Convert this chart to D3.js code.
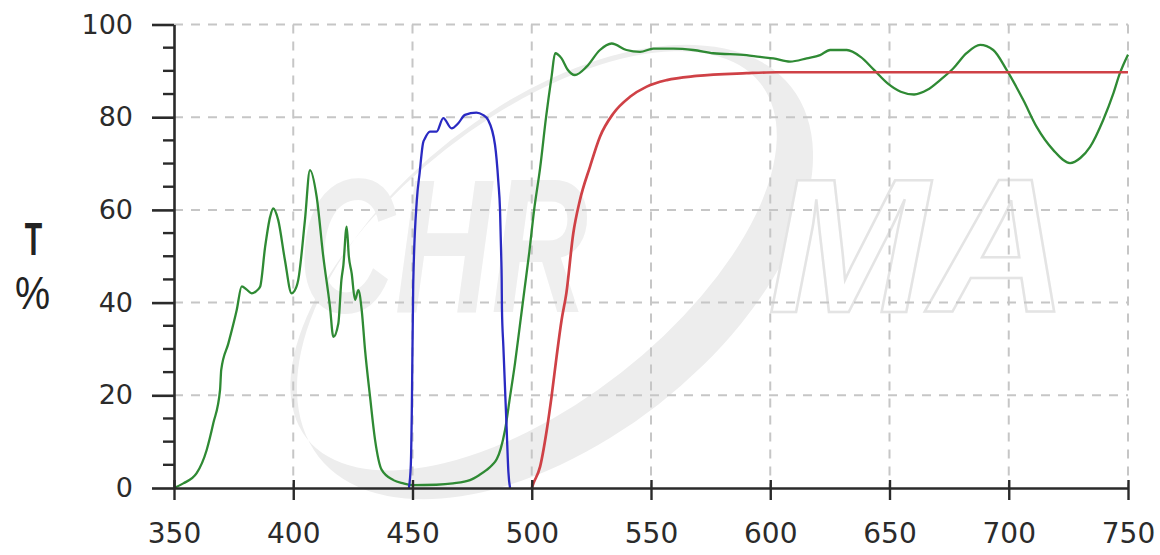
<!DOCTYPE html>
<html>
<head>
<meta charset="utf-8">
<script src="https://cdn.jsdelivr.net/npm/d3@7"></script>
<style>
  html, body { margin: 0; padding: 0; background: #ffffff; }
  svg { display: block; }
</style>
</head>
<body>
<svg id="chart" width="1160" height="555"></svg>
<script>
// Transmission spectra: [wavelength nm, transmission %]
const greenCurve = [
  [350,0],[353.9,1],[359.5,3.2],[363.7,8.2],[366.5,14],[369.3,21.1],[369.8,25.5],[372.8,31.2],
  [376.3,38.4],[378.4,43.5],[380.5,42.8],[382.6,42],[384.5,42.5],[386.1,43.4],[388.2,52],
  [390.3,58.5],[391.6,60.3],[393.7,57.8],[396.5,49.2],[399.3,42],[400.5,42.5],[402.1,44.9],
  [404.9,57.8],[407,68.6],[409.8,62.9],[412.6,49.9],[415.4,39.1],[416.8,32.6],[418.9,35.5],
  [420.2,44.9],[421,48],[422.4,56.4],[423.3,50],[424.5,46.3],[425.9,40.6],[427.3,42.7],
  [428.7,38.4],[430.1,29.8],[432.2,19.7],[434.3,10.4],[437.1,3.9],[442,1.7],[446.2,1],
  [450,0.6],[460,0.7],[467,1],[474.1,1.7],[478,2.8],[481.1,3.9],[483.5,5],[485.4,6.3],
  [487,8.5],[488.8,12.5],[490.9,19.7],[493,27],[495,35],[497,43],[499,51],[501,60],[503.5,69],
  [506,80],[508.3,88.7],[509.8,93.8],[512.5,92.7],[515,90.3],[518.1,89.1],[523,90.9],
  [528.6,94.5],[533.5,95.9],[539.7,94.5],[545.4,94.1],[551,94.8],[559.4,94.8],[567.7,94.5],
  [576.1,93.8],[590.1,93.4],[595.7,93],[601.3,92.7],[608.3,92],[615.3,92.7],[620.9,93.4],
  [625.1,94.5],[632.1,94.5],[637.9,93],[643.5,90.2],[649.2,87.3],[654.7,85.5],[660.3,84.9],
  [665.9,85.9],[671.2,88],[676.7,90.5],[682.3,93.8],[688,95.6],[693.5,94.5],[699.1,90.2],
  [706.1,83.7],[711.7,77.9],[718.7,72.9],[725.7,70.1],[730,71.2],[734.1,73.6],[739.6,79.4],
  [743.9,85.2],[746.6,89.5],[750,93.5]
];
const blueCurve = [
  [448.5,0],[449.3,5],[449.7,16],[450.3,44],[451.8,62],[453,68],[454.4,74.4],[455.2,75.4],
  [457.3,76.9],[460.1,76.9],[462.9,79.8],[466.4,77.6],[469.2,78.7],[472,80.5],[476.8,81],
  [479.5,80.5],[481.7,79.4],[484.6,74],[486,66],[486.7,60],[487.2,50],[487.4,44.9],
  [487.5,38.8],[488.1,30.5],[489.5,12.5],[490.2,3.5],[490.9,0]
];
const redCurve = [
  [500,0],[500.7,1],[503.5,4.6],[506.3,12.5],[508.3,19.7],[510.4,28.3],[512.5,36.2],
  [514.5,42],[517.4,54.9],[520.2,62.1],[524.4,69.3],[528.6,75.8],[534.2,80.8],[541.2,84.4],
  [548.2,86.6],[556.6,88],[569.1,88.9],[590.1,89.5],[602.7,89.7],[650,89.7],[700,89.7],[750,89.7]
];

const xTicks = [350, 400, 450, 500, 550, 600, 650, 700, 750];
const yTicks = [0, 20, 40, 60, 80, 100];
const yMinorStep = 5;

const svg = d3.select("#chart");
const x = d3.scaleLinear().domain([350, 750]).range([174, 1128]);
const y = d3.scaleLinear().domain([0, 100]).range([488, 24.5]);

// Faint logo watermark behind the plot
const wm = svg.append("g").attr("class", "watermark");
const ring = wm.append("g").attr("transform", "translate(555,272) rotate(-38)");
function ellipsePath(cx, cy, rx, ry) {
  return `M${cx - rx},${cy} a${rx},${ry} 0 1,0 ${2 * rx},0 a${rx},${ry} 0 1,0 ${-2 * rx},0 Z`;
}
ring.append("path")
  .attr("d", ellipsePath(0, 0, 300, 168) + ellipsePath(-10, -22, 288, 142))
  .attr("fill", "#ededed")
  .attr("fill-rule", "evenodd");
wm.append("text")
  .attr("x", 298).attr("y", 312)
  .attr("textLength", 290).attr("lengthAdjust", "spacingAndGlyphs")
  .attr("font-family", "Liberation Sans, Arial, sans-serif")
  .attr("font-size", 192).attr("font-weight", "bold").attr("font-style", "italic")
  .attr("fill", "#efefef")
  .text("CHR");
wm.append("text")
  .attr("x", 768).attr("y", 312)
  .attr("textLength", 300).attr("lengthAdjust", "spacingAndGlyphs")
  .attr("font-family", "Liberation Sans, Arial, sans-serif")
  .attr("font-size", 192).attr("font-weight", "bold").attr("font-style", "italic")
  .attr("fill", "#ffffff").attr("stroke", "#e4e4e4").attr("stroke-width", 2.5)
  .text("MA");

// Dashed grid
const grid = svg.append("g").attr("class", "grid")
  .attr("stroke", "#c6c6c6").attr("stroke-width", 2).attr("stroke-dasharray", "9,8");
grid.selectAll("line.h").data(yTicks.filter(d => d > 0)).join("line")
  .attr("class", "h")
  .attr("x1", x(350)).attr("x2", x(750))
  .attr("y1", d => y(d)).attr("y2", d => y(d));
grid.selectAll("line.v").data(xTicks.filter(d => d > 350)).join("line")
  .attr("class", "v")
  .attr("y1", y(100)).attr("y2", y(0))
  .attr("x1", d => x(d)).attr("x2", d => x(d));

// Spectral curves
const line = d3.line().curve(d3.curveMonotoneX).x(d => x(d[0])).y(d => y(d[1]));
const curves = [
  { data: greenCurve, color: "#2f8a34", width: 2.3 },
  { data: blueCurve, color: "#2a2ac2", width: 2.3 },
  { data: redCurve, color: "#cf4146", width: 2.7 }
];
svg.append("g").selectAll("path").data(curves).join("path")
  .attr("d", d => line(d.data))
  .attr("fill", "none")
  .attr("stroke", d => d.color)
  .attr("stroke-width", d => d.width)
  .attr("stroke-linejoin", "round");

// Y axis: major ticks with labels, minor ticks every 5 %
const yAxis = svg.append("g").attr("transform", `translate(${x(350)},0)`)
  .call(d3.axisLeft(y).tickValues(yTicks).tickSize(22).tickSizeOuter(0).tickPadding(19)
    .tickFormat(d3.format("d")));
yAxis.selectAll(".tick line").attr("stroke", "#2a2a2a").attr("stroke-width", 2.6);
yAxis.select(".domain").attr("stroke", "#2a2a2a").attr("stroke-width", 2.6);
yAxis.selectAll(".tick text")
  .attr("font-family", "DejaVu Sans, Verdana, sans-serif")
  .attr("font-size", 27).attr("fill", "#2b2b2b");
const minor = d3.range(0, 100, yMinorStep).filter(v => !yTicks.includes(v));
yAxis.selectAll("line.minor").data(minor).join("line")
  .attr("class", "minor")
  .attr("x1", -11).attr("x2", 0)
  .attr("y1", d => y(d)).attr("y2", d => y(d))
  .attr("stroke", "#2a2a2a").attr("stroke-width", 2.4);

// X axis: ticks cross the baseline
const xAxis = svg.append("g").attr("transform", `translate(0,${y(0)})`)
  .call(d3.axisBottom(x).tickValues(xTicks).tickSize(12).tickSizeOuter(0).tickPadding(23)
    .tickFormat(d3.format("d")));
xAxis.select(".domain").attr("stroke", "#2a2a2a").attr("stroke-width", 2.6);
xAxis.selectAll(".tick line").attr("y1", -8).attr("y2", 12)
  .attr("stroke", "#2a2a2a").attr("stroke-width", 2.4);
xAxis.selectAll(".tick text")
  .attr("font-family", "DejaVu Sans, Verdana, sans-serif")
  .attr("font-size", 28).attr("fill", "#2b2b2b");

// Axis title "T %"
svg.append("text")
  .attr("transform", "translate(33.5,255) scale(0.62,1)")
  .attr("text-anchor", "middle")
  .attr("font-family", "Liberation Sans, Arial, sans-serif")
  .attr("font-size", 46).attr("font-weight", "bold").attr("fill", "#222")
  .text("T");
svg.append("text")
  .attr("transform", "translate(32.5,309) scale(0.84,1)")
  .attr("text-anchor", "middle")
  .attr("font-family", "Liberation Sans, Arial, sans-serif")
  .attr("font-size", 47).attr("fill", "#222")
  .text("%");
</script>
</body>
</html>
